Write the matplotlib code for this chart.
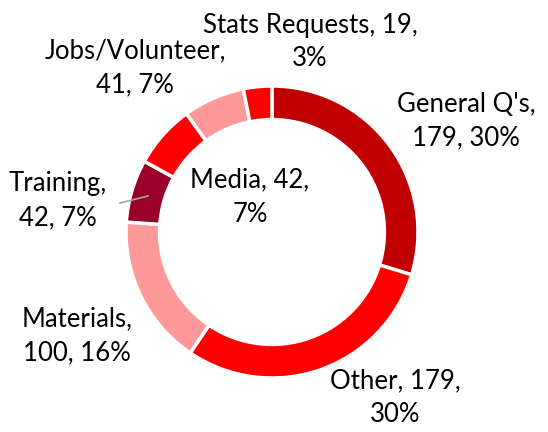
import matplotlib
matplotlib.use("Agg")
import matplotlib.pyplot as plt

categories = ["General Q's", "Other", "Materials", "Training", "Media", "Jobs/Volunteer", "Stats Requests"]
values = [179, 179, 100, 42, 42, 41, 19]
percents = ["30%", "30%", "16%", "7%", "7%", "7%", "3%"]
colors = ["#C00000", "#FF0000", "#FF9999", "#990029", "#FF0000", "#FF9999", "#FF0000"]

fig = plt.figure(figsize=(5.48, 4.32), dpi=100)
ax = fig.add_axes([126/548, 54/432, 292/548, 292/432])
ax.pie(values, colors=colors, startangle=90, counterclock=False, radius=1.0,
       wedgeprops=dict(width=0.23, edgecolor="white", linewidth=2.5))
ax.set_xlim(-1, 1)
ax.set_ylim(-1, 1)
ax.set_aspect("equal")
ax.axis("off")

def px(x, y):
    return ((x - 272) / 146, (232 - y) / 146)

label_px = {
    "General Q's": (466, 121, "{c},\n{v}, {p}"),
    "Other": (395, 398, "{c}, {v},\n{p}"),
    "Materials": (77, 336, "{c},\n{v}, {p}"),
    "Training": (58, 201, "{c},\n{v}, {p}"),
    "Media": (250, 197, "{c}, {v},\n{p}"),
    "Jobs/Volunteer": (135, 68, "{c},\n{v}, {p}"),
    "Stats Requests": (310, 42, "{c}, {v},\n{p}"),
}
for c, v, p in zip(categories, values, percents):
    x, y, fmt = label_px[c]
    dx, dy = px(x, y)
    ax.text(dx, dy, fmt.format(c=c, v=v, p=p), ha="center", va="center",
            fontsize=18.5, family="Lato", linespacing=1.45, color="black",
            clip_on=False)

# leader line for Training
x0, y0 = px(120, 203)
x1, y1 = px(148, 196)
ax.plot([x0, x1], [y0, y1], color="#A6A6A6", lw=1.2, clip_on=False)

fig.savefig("out.png", dpi=100)
